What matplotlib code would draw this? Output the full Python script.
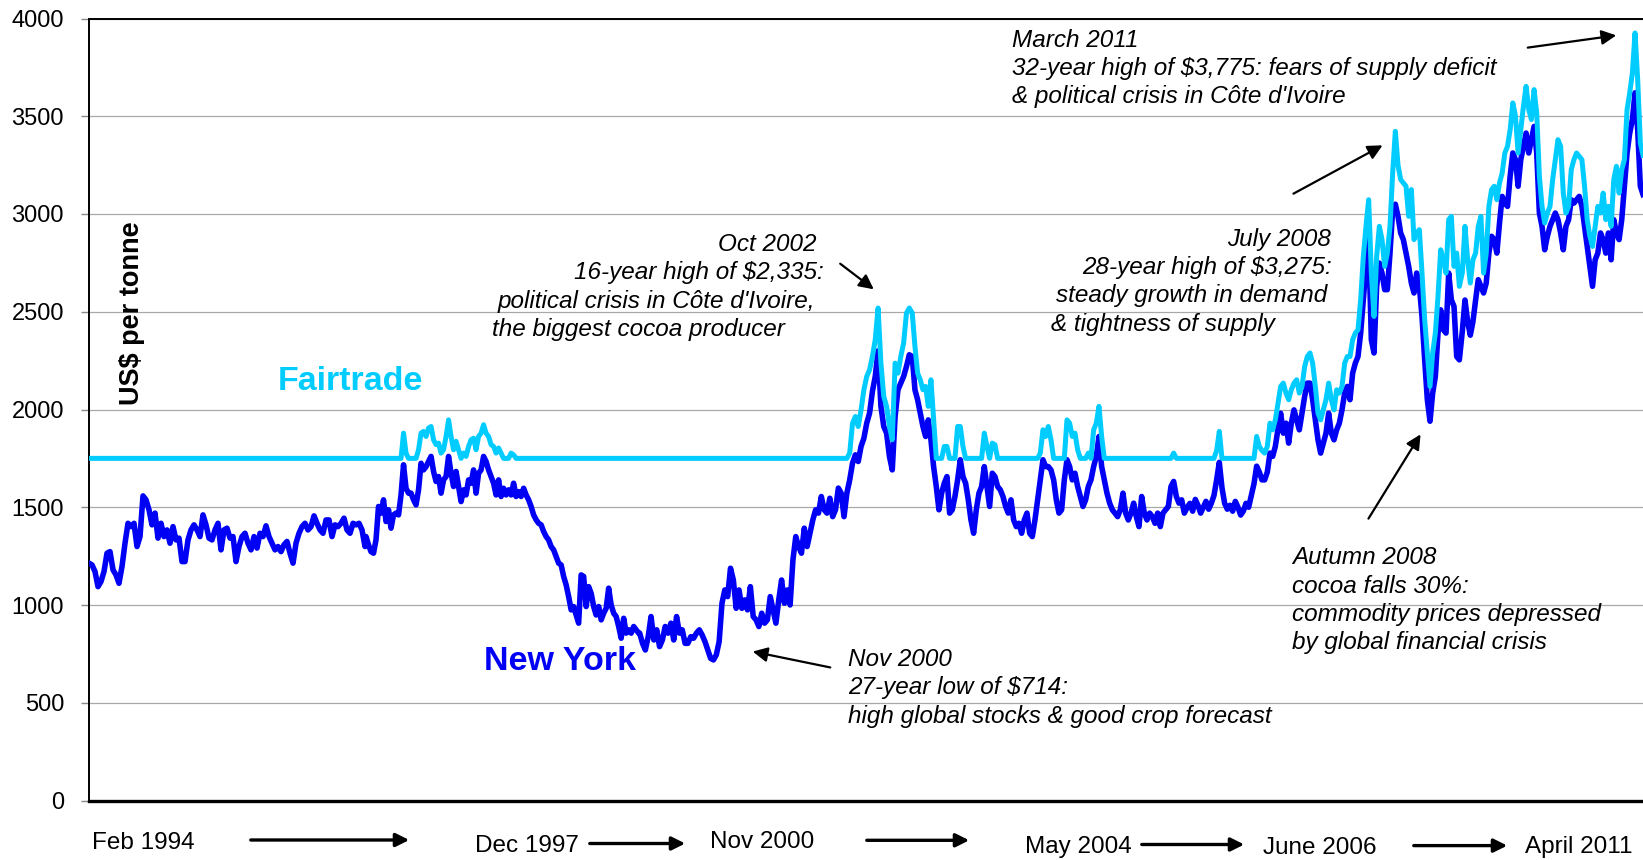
import numpy as np
import matplotlib
matplotlib.use("Agg")
import matplotlib.pyplot as plt

plt.rcParams['font.family'] = ['Liberation Sans', 'DejaVu Sans']

W, H = 1643, 860
FT_MIN = 1750

# ---- data segments: (start year, end year) and values ----
span_a = (1994.080, 1997.146)
ny_a = [1214,1205,1171,1094,1120,1171,1265,1273,1180,1154,
        1111,1197,1316,1418,1401,1418,1299,1350,1558,1538,
        1487,1410,1470,1342,1418,1350,1384,1316,1401,1333,
        1342,1222,1222,1333,1384,1410,1384,1350,1461,1410,
        1342,1333,1384,1418,1282,1384,1393,1342,1350,1222,
        1299,1350,1367,1316,1282,1350,1291,1367,1350,1405,
        1350,1316,1282,1299,1273,1308,1325,1265,1214,1316,
        1367,1401,1418,1384,1401,1456,1418,1384,1367,1435,
        1435,1350,1410,1401,1418,1444,1384,1367,1418,1410,
        1418,1384,1299]
ft_a = [FT_MIN] * len(ny_a)

span_b = (1997.157, 2000.186)
ny_b = [1350,1308,1273,1265,1333,1504,1470,1538,1427,1487,1393,1461,1470,1461,
        1563,1717,1597,1572,1572,1538,1512,1589,1725,1691,
        1708,1734,1760,1683,1632,1657,1572,1640,1657,1760,
        1674,1606,1683,1606,1529,1589,1563,1640,1623,1691,
        1572,1674,1691,1760,1734,1691,1657,1623,1563,1640,
        1555,1597,1563,1589,1563,1623,
        1555,1580,1555,1597,1563,1538,1504,1461,1436,1418,
        1410,1376,1350,1333,1299,1282,1248,1214,1205,1146,
        1103,1043,975,992,949,907,1154,1146,992,1094,
        1060,992,949,992,924,958,983,1086,1000,958,
        941,890,830,932,856,873,856,890,873,856]
ft_b = ([FT_MIN] * 14 +
        [1750,1879,1777,1750,1750,1750,1750,1794,1879,1888,
         1862,1905,1913,1845,1820,1828,1777,1794,1862,1947,
         1862,1794,1837,1794,1750,1777,1760,1811,1845,1853,
         1794,1862,1879,1922,1879,1862,1820,1811,1777,1803,
         1777,1750,1750,1750,1777,1768] +
        [FT_MIN] * 50)

span_c = (2000.197, 2003.192)
ny_c = [856,804,770,838,941,821,873,787,821,890,
        856,907,821,941,856,873,804,804,838,830,
        856,873,847,813,770,727,719,745,813,1009,
        1077,1043,1188,1128,983,1077,983,1026,975,1094,
        941,924,890,958,907,924,1043,975,907,1026,
        1128,1009,1077,1000,
        1231,1350,1299,1265,1393,1299,1367,1435,1487,1470,
        1555,1487,1470,1546,1452,1487,1598,1572,1452,1572,
        1640,1726,1768,1734,1811,1853,1930,1981,2092,2169,
        2300,2016,1913,1879,1760,1691,1964,2101,2135,2169,2220,2280]
ft_c = ([FT_MIN] * 74 +
        [1777,1930,1964,1913,1998,2101,2169,2203,2271,2357,
         2519,2237,2067,2016,1913,1845,2237,2186,2271,2340,2493,2519])

span_d = (2003.225, 2006.247)
ny_d = [2271,2101,2050,1981,1913,1862,1947,1845,1708,1606,
        1487,1572,1623,1657,1470,1487,1555,1640,1743,1657,
        1623,1538,1435,1367,1487,1572,1606,1708,1606,1504,
        1674,1657,1606,1589,1555,1504,1470,1538,1435,1401,
        1418,1367,1435,1470,1367,1350,1435,1538,1640,1743,
        1708,1708,1691,1640,1538,1470,1487,1640,1743,1708,
        1640,1674,1606,1555,1504,1538,1606,1640,1708,1760,
        1862,1708,1640,1572,1521,1487,1470,1452,1487,1572,
        1470,1435,1470,1521,1452,1401,1555,1470,1435,1470,
        1452,1418,1470,1401,1470,1487,1504,1606,1632,1555,
        1521,1538,1470]
ft_d = ([2493,2323,2186,2152,2101,2118,2016,2152,1947] +
        [FT_MIN] * 3 + [1811,1811] + [FT_MIN] * 3 + [1913,1913,1811] +
        [FT_MIN] * 7 + [1879,1811] + [FT_MIN] + [1828,1820] +
        [FT_MIN] * 16 + [1777,1896,1862,1913,1845] + [FT_MIN] * 5 +
        [1947,1930,1862,1879,1794] + [FT_MIN] * 3 + [1777, FT_MIN] +
        [1896,1930,2016,1862] + [FT_MIN] * 26 + [1777] + [FT_MIN] * 4)

span_e = (2006.280, 2009.302)
ny_e = [1500,1520,1480,1540,1510,1470,1500,1530,1490,1520,
        1560,1640,1730,1600,1520,1490,1510,1480,1530,1500,
        1460,1480,1520,1500,1560,1620,1710,1680,1640,
        1640,1680,1777,1760,1811,1900,1981,1879,1930,
        1828,1930,1998,1947,1896,1981,2067,2135,2135,2050,
        1947,1845,1777,1828,1879,1981,1879,1845,1896,1930,
        1998,2084,2118,2050,2186,2237,2271,2391,2561,2732,2869,
        2357,2289,2630,2749,2698,2613,2613,2800,
        3022,3050,2988,2903,2869,2800,2732,2647,2596,2698,
        2630,2476,2254,2050,1940,2084,2169,2391,2510,2408,
        2391,2698,2561,2527,2271,2254]
ft_e = ([FT_MIN] * 11 + [1790,1888] + [FT_MIN] * 13 + [1862,1811,1790] +
        [1777,1811,1930,1896,1947,2030,2118,2135,2084,
         2050,2101,2135,2152,2084,2118,2220,2271,2289,2237,
         2118,1981,1947,1998,2050,2135,2050,1998,2101,2084,
         2118,2237,2271,2271,2357,2391,2408,2561,2783,2937,3073,
         2698,2476,2783,2937,2869,2732,2800,2937,
         3210,3423,3250,3176,3159,3142,2988,3125,2869,2903,
         2920,2698,2459,2289,2118,2289,2391,2579,2817,2766,
         2698,2971,2988,2732,2800,2630])

span_f = (2009.335, 2011.342)
ny_f = [2400,2560,2450,2380,2450,2560,2664,2630,
        2596,2647,2800,2886,2869,2800,2954,3090,3056,3039,
        3193,3312,3278,3142,3278,3346,3414,3312,3380,3448,
        3312,3005,2937,2817,2886,2937,2971,3005,2971,2903,
        2817,2937,2971,3073,3056,3073,3090,3039,2937,2835,
        2732,2630,2766,2800,2903,2869,2800,2903,2766,2971,
        2903,2869,2971,3142,3312,3414,3483,3620,
        3431,3142,3100]
ft_f = [2700,2937,2766,2647,2766,2800,2937,2988,
        2698,2800,3039,3124,3142,3073,3159,3210,3312,3346,
        3431,3568,3500,3312,3431,3551,3653,3534,3483,3636,
        3517,3193,3039,2954,3005,3039,3176,3278,3380,3346,
        3107,3005,3039,3227,3278,3312,3295,3278,3142,2971,
        2886,2834,2937,3039,3005,3107,2971,3039,2937,3176,
        3244,3107,3227,3278,3534,3619,3721,3926,
        3687,3363,3300]

segments = [(span_a, ny_a, ft_a), (span_b, ny_b, ft_b), (span_c, ny_c, ft_c),
            (span_d, ny_d, ft_d), (span_e, ny_e, ft_e), (span_f, ny_f, ft_f)]

x = np.concatenate([np.linspace(s[0], s[1], len(n)) for s, n, f in segments])
ny = np.concatenate([np.array(n, float) for s, n, f in segments])
ft = np.concatenate([np.array(f, float) for s, n, f in segments])

y_ticks = [0, 500, 1000, 1500, 2000, 2500, 3000, 3500, 4000]

# ---- figure ----
fig = plt.figure(figsize=(W / 100, H / 100), dpi=100)
ax = fig.add_axes([89 / W, 1 - 800.5 / H, (W - 89) / W, (800.5 - 18.5) / H])

ax.plot(x, ny, color='#0000F5', lw=4.0, solid_joinstyle='round', zorder=3)
ax.plot(x, ft, color='#00CCFF', lw=3.6, solid_joinstyle='round', zorder=4)

ax.set_xlim(span_a[0], span_f[1])
ax.set_ylim(0, 4000)
ax.set_yticks(y_ticks)
ax.set_yticklabels([str(v) for v in y_ticks], fontsize=17)
ax.tick_params(axis='y', direction='out', length=6, width=1, color='#888888', pad=12)
ax.set_xticks([])
ax.yaxis.grid(True, color='#a8a8a8', lw=0.9)
ax.set_axisbelow(True)
for side in ['left', 'top']:
    ax.spines[side].set_linewidth(1.4)
    ax.spines[side].set_color('black')
ax.spines['bottom'].set_linewidth(2.4)
ax.spines['right'].set_visible(False)

def F(px, py):
    return (px / W, 1 - py / H)

# axis title and series labels
fig.text(*F(132, 313), 'US$ per tonne', rotation=90, ha='center', va='center',
         fontsize=19.5, fontweight='bold', color='black')
fig.text(*F(278, 390), 'Fairtrade', ha='left', va='baseline',
         fontsize=24.5, fontweight='bold', color='#00CCFF')
fig.text(*F(484, 670), 'New York', ha='left', va='baseline',
         fontsize=24.5, fontweight='bold', color='#0000F5')

# annotations (italic)
notes = [
    (718, 243, 'Oct 2002'),
    (574, 271, '16-year high of $2,335:'),
    (498, 300, "political crisis in Côte d'Ivoire,"),
    (492, 328, 'the biggest cocoa producer'),
    (1227, 238, 'July 2008'),
    (1082, 266, '28-year high of $3,275:'),
    (1056, 294, 'steady growth in demand'),
    (1051, 323, '& tightness of supply'),
    (1012, 39, 'March 2011'),
    (1012, 67, '32-year high of $3,775: fears of supply deficit'),
    (1012, 95, "& political crisis in Côte d'Ivoire"),
    (1292, 556, 'Autumn 2008'),
    (1292, 585, 'cocoa falls 30%:'),
    (1292, 613, 'commodity prices depressed'),
    (1292, 641, 'by global financial crisis'),
    (848, 658, 'Nov 2000'),
    (848, 686, '27-year low of $714:'),
    (848, 715, 'high global stocks & good crop forecast'),
]
for px, py, t in notes:
    fig.text(*F(px, py + 8), t, ha='left', va='baseline', fontsize=17.5,
             style='italic', color='black')

note_arrows = [
    ((838, 262), (876, 291)),
    ((1291, 195), (1385, 144)),
    ((1525, 48), (1619, 35)),
    ((1367, 521), (1422, 432)),
    ((833, 668), (750, 651)),
]
for tail, head in note_arrows:
    fig.add_artist(matplotlib.patches.FancyArrowPatch(
        F(*tail), F(*head), transform=fig.transFigure, arrowstyle='-|>',
        mutation_scale=22, lw=1.6, color='black'))

# bottom period labels and arrows
periods = [
    (92, 841, 'Feb 1994'),
    (475, 843.5, 'Dec 1997'),
    (710, 840, 'Nov 2000'),
    (1025, 844.5, 'May 2004'),
    (1263, 845.5, 'June 2006'),
    (1525, 845.5, 'April 2011'),
]
for px, py, t in periods:
    fig.text(*F(px, py + 8), t, ha='left', va='baseline', fontsize=17.5, color='black')

period_arrows = [
    ((248, 840), (412, 840)),
    ((587, 843.5), (688, 843.5)),
    ((864, 840.3), (972, 840.3)),
    ((1139, 844.5), (1247, 844.5)),
    ((1411, 845.6), (1510, 845.6)),
]
for tail, head in period_arrows:
    fig.add_artist(matplotlib.patches.FancyArrowPatch(
        F(*tail), F(*head), transform=fig.transFigure, arrowstyle='-|>',
        mutation_scale=20, lw=2.4, color='black'))

fig.savefig('out.png', dpi=100)
